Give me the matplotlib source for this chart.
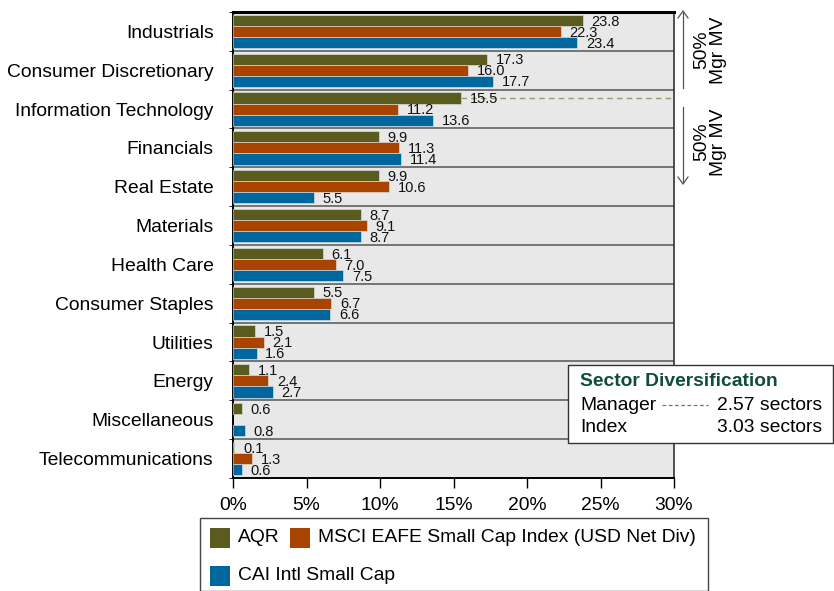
import matplotlib
matplotlib.use("Agg")
import matplotlib.pyplot as plt
import numpy as np
from matplotlib.patches import Rectangle
from matplotlib.lines import Line2D

plt.rcParams["font.family"] = ["Liberation Sans", "DejaVu Sans"]

sectors = ["Industrials", "Consumer Discretionary", "Information Technology",
           "Financials", "Real Estate", "Materials", "Health Care",
           "Consumer Staples", "Utilities", "Energy", "Miscellaneous",
           "Telecommunications"]
aqr = [23.8, 17.3, 15.5, 9.9, 9.9, 8.7, 6.1, 5.5, 1.5, 1.1, 0.6, 0.1]
msci = [22.3, 16.0, 11.2, 11.3, 10.6, 9.1, 7.0, 6.7, 2.1, 2.4, None, 1.3]
cai = [23.4, 17.7, 13.6, 11.4, 5.5, 8.7, 7.5, 6.6, 1.6, 2.7, 0.8, 0.6]
series_names = ["AQR", "MSCI EAFE Small Cap Index (USD Net Div)", "CAI Intl Small Cap"]
colors = ["#5b5a1f", "#a94400", "#00679e"]
x_ticks = [0, 5, 10, 15, 20, 25, 30]
manager_sectors = 2.57
index_sectors = 3.03

FS = 13.9

fig = plt.figure(figsize=(8.34, 5.91), dpi=100)
W, H = 834, 591
ax = fig.add_axes([233 / W, 1 - 478 / H, (674 - 233) / W, (478 - 12) / H])
ax.set_facecolor("#e8e8e8")

n = len(sectors)
y = np.arange(n)
bh = 0.285
offsets = [-bh, 0.0, bh]
for s, (vals, col, off) in enumerate(zip([aqr, msci, cai], colors, offsets)):
    for i, v in enumerate(vals):
        if v is None:
            continue
        ax.barh(y[i] + off, v, height=bh, color=col, edgecolor="#e8e8e8",
                linewidth=0.4, zorder=3)
        ax.text(v + 0.6, y[i] + off + 0.03, f"{v:.1f}", fontsize=10.5,
                va="center", ha="left", color="#111111", zorder=4)

ax.set_xlim(0, 30)
ax.set_ylim(n - 0.5, -0.5)

# row separators
for b in np.arange(0.5, n - 0.5, 1.0):
    ax.axhline(b, color="#555555", lw=1.1, zorder=2)

# dashed marker at the manager's 50% cumulative weight
it = sectors.index("Information Technology")
ax.plot([aqr[it], 30], [it - bh, it - bh], ls=(0, (4, 3)), color="#9a9a6a",
        lw=1.0, zorder=2)

ax.set_yticks(y)
ax.set_yticklabels(sectors, fontsize=FS)
ax.tick_params(axis="y", length=0, pad=14)
ax.set_yticks(np.arange(-0.5, n, 1.0), minor=True)
ax.tick_params(axis="y", which="minor", length=3, color="black")
ax.set_xticks(x_ticks)
ax.set_xticklabels([f"{t}%" for t in x_ticks], fontsize=FS)
ax.tick_params(axis="x", length=7, width=1, pad=7, direction="out")

for side in ["left", "bottom"]:
    ax.spines[side].set_color("black")
    ax.spines[side].set_linewidth(1.4)
ax.spines["top"].set_linewidth(2.2)
ax.spines["top"].set_color("black")
ax.spines["right"].set_color("#333333")
ax.spines["right"].set_linewidth(1.2)


def fx(px):
    return px / W


def fy(py):
    return 1 - py / H


# 50% Mgr MV brackets
fig.add_artist(Line2D([fx(683), fx(683)], [fy(12), fy(88)], color="#555555", lw=0.9))
fig.add_artist(Line2D([fx(678), fx(683), fx(688)], [fy(18), fy(11), fy(18)], color="#555555", lw=0.9))
fig.add_artist(Line2D([fx(683), fx(683)], [fy(107), fy(183)], color="#555555", lw=0.9))
fig.add_artist(Line2D([fx(678), fx(683), fx(688)], [fy(177), fy(184), fy(177)], color="#555555", lw=0.9))
fig.text(fx(710), fy(50), "50%\nMgr MV", rotation=90, fontsize=FS,
         ha="center", va="center", linespacing=0.95)
fig.text(fx(710), fy(142), "50%\nMgr MV", rotation=90, fontsize=FS,
         ha="center", va="center", linespacing=0.95)

# sector diversification box
fig.add_artist(Rectangle((fx(568), fy(443)), fx(834 - 568) - 0.001, (443 - 365) / H,
                         facecolor="white", edgecolor="#333333", lw=1.0, zorder=5))
fig.text(fx(580), fy(382), "Sector Diversification", fontsize=FS, fontweight="bold",
         color="#0f4d3c", va="center", ha="left", zorder=6)
fig.text(fx(580), fy(405), "Manager", fontsize=FS, va="center", ha="left", zorder=6)
fig.add_artist(Line2D([fx(662), fx(708)], [fy(405), fy(405)], ls=(0, (3, 2)),
                      color="#7a7a4a", lw=0.9, zorder=6))
fig.text(fx(717), fy(405), f"{manager_sectors:.2f} sectors", fontsize=FS,
         va="center", ha="left", zorder=6)
fig.text(fx(580), fy(427), "Index", fontsize=FS, va="center", ha="left", zorder=6)
fig.text(fx(717), fy(427), f"{index_sectors:.2f} sectors", fontsize=FS,
         va="center", ha="left", zorder=6)

# legend
fig.add_artist(Rectangle((fx(200), 0), fx(708 - 200), fy(518), facecolor="white",
                         edgecolor="#444444", lw=1.0, zorder=5))
legend_pos = [(210, 538, 238), (290, 538, 318), (210, 576, 238)]
for (sx, sy, tx), name, col in zip(legend_pos, series_names, colors):
    fig.add_artist(Rectangle((fx(sx), fy(sy + 10)), fx(20), 20 / H, facecolor=col,
                             edgecolor="none", zorder=6))
    fig.text(fx(tx), fy(sy), name, fontsize=FS, va="center", ha="left", zorder=6)

fig.savefig("out.png", dpi=100)
